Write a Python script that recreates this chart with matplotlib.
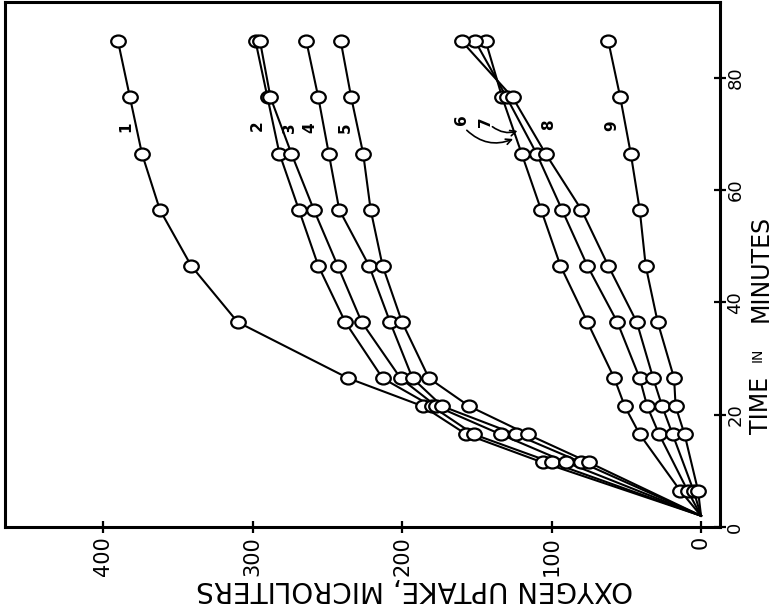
import matplotlib
matplotlib.use('Agg')
import matplotlib.pyplot as plt
from matplotlib.path import Path
from matplotlib.transforms import Affine2D

# time in minutes (curves 1-5 read at 11.5, curves 6-9 at 6.5)
times_a = [2, 11.5, 16.5, 21.5, 26.5, 36.5, 46.5, 56.5, 66.5, 76.5, 86.5]
times_b = [2, 6.5, 16.5, 21.5, 26.5, 36.5, 46.5, 56.5, 66.5, 76.5, 86.5]

# oxygen uptake, microliters
curve1 = [0, 106, 157, 186, 236, 310, 341, 362, 374, 382, 390]
curve2 = [0, 100, 152, 180, 213, 238, 256, 269, 282, 290, 298]
curve3 = [0, 90, 134, 177, 201, 227, 243, 259, 274, 288, 295]
curve4 = [0, 80, 124, 173, 193, 208, 222, 242, 249, 256, 264]
curve5 = [0, 75, 116, 155, 182, 200, 213, 221, 226, 234, 241]
curve6 = [0, 14, 41, 51, 58, 76, 94, 107, 120, 133, 144]
curve7 = [0, 9, 28, 36, 41, 56, 76, 93, 110, 130, 151]
curve8 = [0, 5, 19, 26, 32, 43, 62, 80, 104, 126, 160]
curve9 = [0, 2, 11, 17, 18, 29, 37, 41, 47, 54, 62]

curve_names = ['1', '2', '3', '4', '5', '6', '7', '8', '9']
# where the hand lettered numbers sit (uptake, time)
name_uptake = [385, 297, 275, 262, 238, 160, 144, 102, 60]
name_time = [71.2, 71.5, 71.2, 71.2, 71.2, 72.5, 72.1, 71.6, 71.4]

uptake_ticks = [0, 100, 200, 300, 400]
time_ticks = [0, 20, 40, 60, 80]

curves_a = [curve1, curve2, curve3, curve4, curve5]
curves_b = [curve6, curve7, curve8, curve9]

fig = plt.figure(figsize=(7.72, 6.10), dpi=100)
# the scanned figure is turned on its side: uptake runs right to left, time upward
ax = fig.add_axes([5 / 772, 83 / 610, 715 / 772, 525 / 610])

ring = Path.unit_circle().transformed(Affine2D().scale(1.0, 0.82))

for c in curves_a:
    ax.plot(c, times_a, color='black', lw=1.5, zorder=2)
    ax.plot(c[1:], times_a[1:], ls='none', marker=ring, ms=10.5,
            mfc='white', mec='black', mew=1.6, zorder=3)
for c in curves_b:
    ax.plot(c, times_b, color='black', lw=1.5, zorder=2)
    ax.plot(c[1:], times_b[1:], ls='none', marker=ring, ms=10.5,
            mfc='white', mec='black', mew=1.6, zorder=3)

for i in range(len(curve_names)):
    ax.text(name_uptake[i], name_time[i], curve_names[i], rotation=90,
            fontsize=11, fontweight='bold', ha='center', va='center')

# little hand drawn arrows for 6 and 7
ax.annotate('', xy=(124, 69.3), xytext=(158, 71.0),
            arrowprops=dict(arrowstyle='->', lw=1.2, color='black',
                            connectionstyle='arc3,rad=0.35'))
ax.annotate('', xy=(121, 70.7), xytext=(141, 71.6),
            arrowprops=dict(arrowstyle='->', lw=1.2, color='black',
                            connectionstyle='arc3,rad=0.3'))

ax.set_xlim(465.6, -12.7)
ax.set_ylim(0, 93.5)

ax.set_xticks(uptake_ticks)
ax.set_xticklabels([str(v) for v in uptake_ticks], rotation=90, fontsize=15)
ax.yaxis.tick_right()
ax.set_yticks(time_ticks)
ax.set_yticklabels([str(v) for v in time_ticks], rotation=90, fontsize=13,
                   va='center')
ax.tick_params(axis='x', direction='inout', length=9, width=1.6, pad=2)
ax.tick_params(axis='y', direction='inout', length=9, width=1.6, pad=0)

for s in ax.spines.values():
    s.set_linewidth(2.2)

fig.text(415 / 772, 1 - 589 / 610, 'OXYGEN UPTAKE, MICROLITERS', rotation=180,
         fontsize=20, ha='center', va='center')
# "TIME in MINUTES" with the small in, as lettered on the original
fig.text(761 / 772, 1 - 405 / 610, 'TIME', rotation=90,
         fontsize=17, ha='center', va='center')
fig.text(758 / 772, 1 - 355 / 610, 'IN', rotation=90,
         fontsize=10, ha='center', va='center')
fig.text(761 / 772, 1 - 268 / 610, 'MINUTES', rotation=90,
         fontsize=17, ha='center', va='center')

fig.savefig('out.png', dpi=100)
